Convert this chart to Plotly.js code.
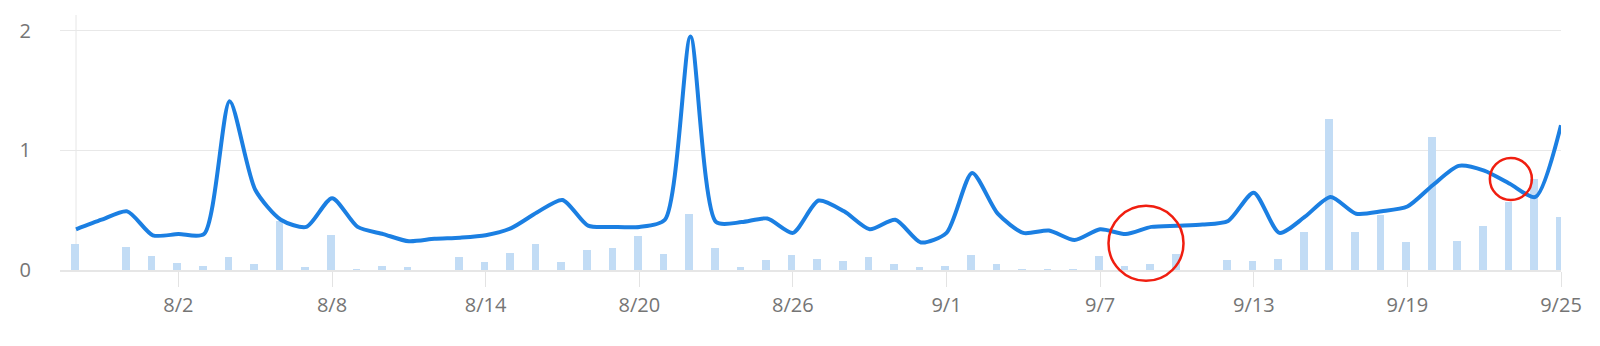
<!DOCTYPE html>
<html>
<head>
<meta charset="utf-8">
<script src="https://cdn.plot.ly/plotly-3.0.1.min.js"></script>
<style>
  html, body { margin: 0; padding: 0; background: #ffffff; }
  #chart { width: 1600px; height: 346px; }
</style>
</head>
<body>
<div id="chart"></div>
<script>
// ---- data ----
const days = [
  '2023-07-29','2023-07-30','2023-07-31','2023-08-01','2023-08-02','2023-08-03','2023-08-04','2023-08-05',
  '2023-08-06','2023-08-07','2023-08-08','2023-08-09','2023-08-10','2023-08-11','2023-08-12','2023-08-13',
  '2023-08-14','2023-08-15','2023-08-16','2023-08-17','2023-08-18','2023-08-19','2023-08-20','2023-08-21',
  '2023-08-22','2023-08-23','2023-08-24','2023-08-25','2023-08-26','2023-08-27','2023-08-28','2023-08-29',
  '2023-08-30','2023-08-31','2023-09-01','2023-09-02','2023-09-03','2023-09-04','2023-09-05','2023-09-06',
  '2023-09-07','2023-09-08','2023-09-09','2023-09-10','2023-09-11','2023-09-12','2023-09-13','2023-09-14',
  '2023-09-15','2023-09-16','2023-09-17','2023-09-18','2023-09-19','2023-09-20','2023-09-21','2023-09-22',
  '2023-09-23','2023-09-24','2023-09-25'
];
const lineValues = [
  0.34, 0.42, 0.49, 0.29, 0.30, 0.30, 1.41, 0.67,
  0.42, 0.36, 0.60, 0.36, 0.30, 0.24, 0.26, 0.27,
  0.29, 0.35, 0.48, 0.585, 0.37, 0.36, 0.36, 0.42,
  1.95, 0.40, 0.40, 0.43, 0.31, 0.58, 0.49, 0.34,
  0.42, 0.23, 0.31, 0.81, 0.47, 0.31, 0.33, 0.25,
  0.34, 0.30, 0.36, 0.37, 0.38, 0.41, 0.646, 0.31,
  0.445, 0.61, 0.47, 0.49, 0.53, 0.71, 0.87, 0.83,
  0.72, 0.61, 1.21
];
const barValues = [
  0.214, 0, 0.195, 0.117, 0.058, 0.033, 0.111, 0.053,
  0.41, 0.025, 0.29, 0.01, 0.033, 0.025, 0, 0.109,
  0.07, 0.14, 0.22, 0.07, 0.17, 0.18, 0.287, 0.13,
  0.468, 0.187, 0.028, 0.084, 0.123, 0.092, 0.078, 0.109,
  0.047, 0.025, 0.033, 0.128, 0.053, 0.01, 0.01, 0.01,
  0.12, 0.033, 0.053, 0.13, 0, 0.084, 0.075, 0.095,
  0.32, 1.26, 0.32, 0.46, 0.23, 1.11, 0.24, 0.365,
  0.565, 0.76, 0.44
];
const xTickDates = ['2023-08-02','2023-08-08','2023-08-14','2023-08-20','2023-08-26','2023-09-01','2023-09-07','2023-09-13','2023-09-19','2023-09-25'];
const xTickLabels = ['8/2','8/8','8/14','8/20','8/26','9/1','9/7','9/13','9/19','9/25'];
const yTickVals = [0, 1, 2];
const yTickLabels = ['0', '1', '2'];
// highlighted spots (red circles): anchor date-time, anchor value, radius in px
const highlightDates = ['2023-09-08T19:00:00Z', '2023-09-23T01:00:00Z'];
const highlightValues = [0.223, 0.76];
const highlightRadii = [37.5, 21];

// ---- chart ----
const DAY = 86400000;
const X_START = '2023-07-28T09:00:00Z';
const X_END = '2023-09-25T00:00:00Z';
const Y_RANGE = [0, 2.13];

const bars = {
  type: 'bar', x: days, y: barValues,
  width: 0.3 * DAY, offset: -0.2 * DAY,
  marker: { color: '#c2dcf5', line: { width: 0 } },
  hoverinfo: 'skip'
};
const line = {
  type: 'scatter', mode: 'lines', x: days, y: lineValues,
  line: { color: '#1b7fe2', width: 4, shape: 'spline', smoothing: 0.7 },
  hoverinfo: 'skip'
};

const shapes = [{
  type: 'line', xref: 'x', yref: 'paper',
  x0: days[0], x1: days[0], y0: 0, y1: 1,
  line: { color: '#e6e6e6', width: 1 }, layer: 'below'
}];
const t0 = Date.parse(X_START), t1 = Date.parse(X_END);
highlightDates.forEach((d, i) => {
  const r = highlightRadii[i];
  // paper-referenced so the circle is not clipped by the plot area
  const px = (Date.parse(d) - t0) / (t1 - t0);
  const py = (highlightValues[i] - Y_RANGE[0]) / (Y_RANGE[1] - Y_RANGE[0]);
  shapes.push({
    type: 'circle', xref: 'paper', yref: 'paper',
    xsizemode: 'pixel', ysizemode: 'pixel',
    xanchor: px, yanchor: py,
    x0: -r, x1: r, y0: -r, y1: r,
    line: { color: '#f01e10', width: 2.5 }, fillcolor: 'rgba(0,0,0,0)'
  });
});

const tickFont = { family: '"Open Sans", "DejaVu Sans", sans-serif', size: 20, color: '#757575' };
const layout = {
  width: 1600, height: 346,
  margin: { l: 60, r: 39, t: 15, b: 76, pad: 0 },
  paper_bgcolor: '#ffffff', plot_bgcolor: '#ffffff',
  showlegend: false,
  bargap: 0,
  xaxis: {
    type: 'date',
    range: ['2023-07-28 09:00', '2023-09-25 00:00'],
    tickmode: 'array', tickvals: xTickDates, ticktext: xTickLabels,
    ticks: 'outside', ticklen: 15, tickwidth: 1, tickcolor: '#e3e3e3',
    showgrid: false, zeroline: false,
    showline: true, linecolor: '#e6e6e6', linewidth: 1.5,
    tickfont: tickFont, ticklabelstandoff: 1
  },
  yaxis: {
    range: Y_RANGE,
    tickmode: 'array', tickvals: yTickVals, ticktext: yTickLabels,
    showgrid: true, gridcolor: '#e8e8e8', gridwidth: 1.5,
    zeroline: false, showline: false, ticks: '',
    tickfont: tickFont, ticklabelstandoff: 28
  },
  shapes: shapes
};

Plotly.newPlot('chart', [bars, line], layout, { staticPlot: true, displayModeBar: false });
</script>
</body>
</html>
